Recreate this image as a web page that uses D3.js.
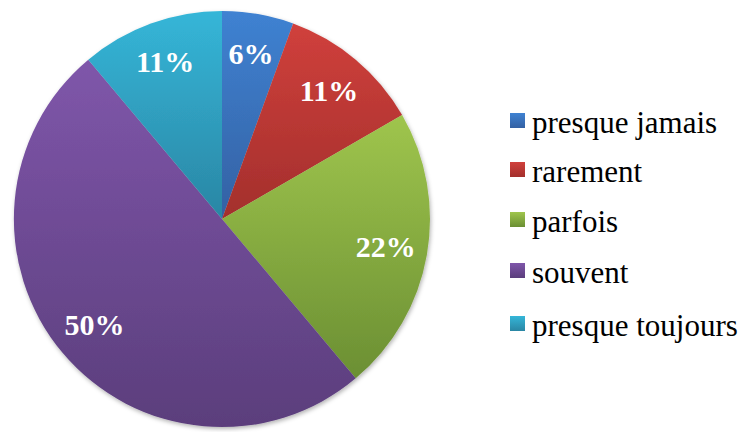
<!DOCTYPE html>
<html>
<head>
<meta charset="utf-8">
<script src="https://cdn.jsdelivr.net/npm/d3@7"></script>
<style>
  body { margin: 0; background: #fff; }
  svg text { font-family: "Liberation Serif", "Times New Roman", Times, "DejaVu Serif", serif; }
</style>
</head>
<body>
<script>
var categories = ["presque jamais", "rarement", "parfois", "souvent", "presque toujours"];
var values = [1, 2, 4, 9, 2];
var labels = ["6%", "11%", "22%", "50%", "11%"];
var colorsTop = ["#3f82d2", "#d0403c", "#9fc54d", "#7f56aa", "#35b6d8"];
var colorsBottom = ["#3461a3", "#a32f2c", "#6b8f33", "#5b3e7c", "#2a86a4"];

var svg = d3.select("body").append("svg")
  .attr("width", 747)
  .attr("height", 432);

var cx = 222, cy = 219, radius = 208;

var defs = svg.append("defs");
categories.forEach(function(c, i) {
  var grad = defs.append("linearGradient")
    .attr("id", "grad" + i)
    .attr("x1", 0).attr("y1", 0).attr("x2", 0).attr("y2", 1);
  grad.append("stop").attr("offset", "0%").attr("stop-color", colorsTop[i]);
  grad.append("stop").attr("offset", "100%").attr("stop-color", colorsBottom[i]);
});

var shadow = defs.append("filter").attr("id", "shadow")
  .attr("x", "-10%").attr("y", "-10%").attr("width", "120%").attr("height", "120%");
shadow.append("feDropShadow")
  .attr("dx", 1).attr("dy", 2).attr("stdDeviation", 2)
  .attr("flood-color", "#000").attr("flood-opacity", 0.3);

var pie = d3.pie().sort(null).value(function(d) { return d; });
var arcs = pie(values);

var arc = d3.arc().innerRadius(0).outerRadius(radius);
var labelArc = d3.arc().innerRadius(radius * 0.8).outerRadius(radius * 0.8);

var g = svg.append("g")
  .attr("transform", "translate(" + cx + "," + cy + ")");

g.append("g").attr("filter", "url(#shadow)")
  .selectAll("path")
  .data(arcs)
  .enter()
  .append("path")
  .attr("d", arc)
  .attr("fill", function(d, i) { return "url(#grad" + i + ")"; });

g.selectAll("text.lbl")
  .data(arcs)
  .enter()
  .append("text")
  .attr("class", "lbl")
  .attr("transform", function(d) { return "translate(" + labelArc.centroid(d) + ")"; })
  .attr("text-anchor", "middle")
  .attr("dy", "0.3em")
  .style("font-weight", "bold")
  .style("font-size", "30px")
  .style("fill", "#fff")
  .text(function(d, i) { return labels[i]; });

// legend
var legend = svg.append("g").attr("transform", "translate(510,0)");
var rowY = [122, 171, 221, 272, 325];

var items = legend.selectAll("g")
  .data(categories)
  .enter()
  .append("g")
  .attr("transform", function(d, i) { return "translate(0," + rowY[i] + ")"; });

items.append("rect")
  .attr("x", 0)
  .attr("y", -9)
  .attr("width", 15)
  .attr("height", 15)
  .attr("fill", function(d, i) { return "url(#grad" + i + ")"; });

items.append("text")
  .attr("x", 22)
  .attr("y", 0)
  .attr("dy", "0.35em")
  .style("font-size", "31px")
  .style("fill", "#000")
  .text(function(d) { return d; });
</script>
</body>
</html>
